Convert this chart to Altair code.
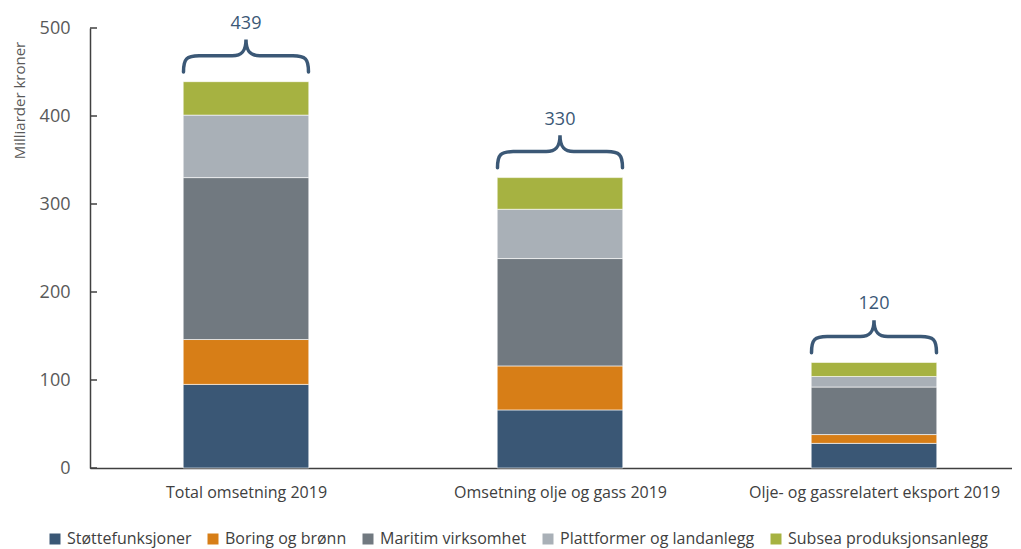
import altair as alt
import pandas as pd

categories = ["Total omsetning 2019", "Omsetning olje og gass 2019", "Olje- og gassrelatert eksport 2019"]
segments = ["Støttefunksjoner", "Boring og brønn", "Maritim virksomhet",
            "Plattformer og landanlegg", "Subsea produksjonsanlegg"]
stotte = [95, 66, 28]
boring = [51, 50, 10]
maritim = [184, 122, 54]
plattformer = [71, 56, 12]
subsea = [38, 36, 16]
totals = [439, 330, 120]
y_ticks = [0, 100, 200, 300, 400, 500]
colors = ["#3a5775", "#d77e17", "#717980", "#a9b0b7", "#a6b241"]

FONT = "Open Sans"

series = [stotte, boring, maritim, plattformer, subsea]
rows = []
for si, (seg, vals) in enumerate(zip(segments, series)):
    for ci, cat in enumerate(categories):
        rows.append({"ci": ci, "category": cat, "segment": seg, "order": si, "value": vals[ci]})
df = pd.DataFrame(rows)
df_tot = pd.DataFrame({"ci": list(range(len(categories))), "category": categories, "total": totals})
df_ticks = pd.DataFrame({"y": y_ticks})

xscale = alt.Scale(domain=[-0.4968, 2.4395], nice=False, zero=False)
yscale = alt.Scale(domain=[0, 500], nice=False)

label_expr = "[" + ",".join("'" + c + "'" for c in categories) + "][datum.value]"

xaxis = alt.Axis(values=[0, 1, 2], labelExpr=label_expr, title=None, grid=False,
                 tickSize=0, labelPadding=16, labelFontSize=16, labelColor="#404040",
                 labelFont=FONT, labelLimit=500, domainColor="#404040", domainWidth=1.5)
yaxis = alt.Axis(values=y_ticks, title="Milliarder kroner", grid=False, tickSize=0,
                 labelPadding=20, labelFontSize=18, labelColor="#595959", labelFont=FONT,
                 domainColor="#404040", domainWidth=1.5,
                 titleFontSize=15, titleFontWeight="normal", titleColor="#595959", titleFont=FONT,
                 titleAngle=270, titleAlign="center", titleBaseline="middle",
                 titleX=-71, titleY=72)

bars = alt.Chart(df).transform_stack(
    stack="value", groupby=["ci"], sort=[alt.SortField("order")], as_=["y0", "y1"]
).transform_calculate(
    xa="datum.ci - 0.2", xb="datum.ci + 0.2"
).mark_bar(stroke="#ffffff", strokeWidth=1, strokeOpacity=0.6).encode(
    x=alt.X("xa:Q", scale=xscale, axis=xaxis),
    x2="xb:Q",
    y=alt.Y("y0:Q", scale=yscale, axis=yaxis),
    y2="y1:Q",
    color=alt.Color("segment:N", scale=alt.Scale(domain=segments, range=colors),
                    legend=alt.Legend(title=None, orient="none", legendX=-43, legendY=503,
                                      direction="horizontal", columns=5, symbolType="square",
                                      symbolSize=121, symbolStrokeWidth=0, labelFontSize=16,
                                      labelFont=FONT, labelLimit=400,
                                      labelColor="#404040", columnPadding=13, labelOffset=4)),
)

ticks = alt.Chart(df_ticks).mark_rule(color="#404040", strokeWidth=1.5).encode(
    y=alt.Y("y:Q", scale=yscale, axis=yaxis),
    x=alt.value(0), x2=alt.value(7),
)

brace_path = ("M -1 0.26 C -1 0.05 -0.95 0 -0.75 0 L -0.22 0 C -0.06 0 0 -0.08 0 -0.26 "
              "C 0 -0.08 0.06 0 0.22 0 L 0.75 0 C 0.95 0 1 0.05 1 0.26")

braces = alt.Chart(df_tot).mark_point(
    shape=brace_path, size=125 * 125, filled=False, stroke="#3b5876", strokeWidth=3.5,
    strokeCap="round", opacity=1, yOffset=-26
).encode(
    x=alt.X("ci:Q", scale=xscale, axis=xaxis),
    y=alt.Y("total:Q", scale=yscale, axis=yaxis),
)

labels = alt.Chart(df_tot).mark_text(
    fontSize=18, font=FONT, color="#3b5876", baseline="middle", yOffset=-58
).encode(
    x=alt.X("ci:Q", scale=xscale, axis=xaxis),
    y=alt.Y("total:Q", scale=yscale, axis=yaxis),
    text="total:Q",
)

chart = alt.layer(bars, ticks, braces, labels).properties(
    width=922, height=440,
    padding={"left": 82, "top": 20, "right": 0, "bottom": 80},
    autosize="none",
).configure(font=FONT).configure_view(stroke=None)

chart.save("out.html", embed_options={"renderer": "svg", "actions": False})
